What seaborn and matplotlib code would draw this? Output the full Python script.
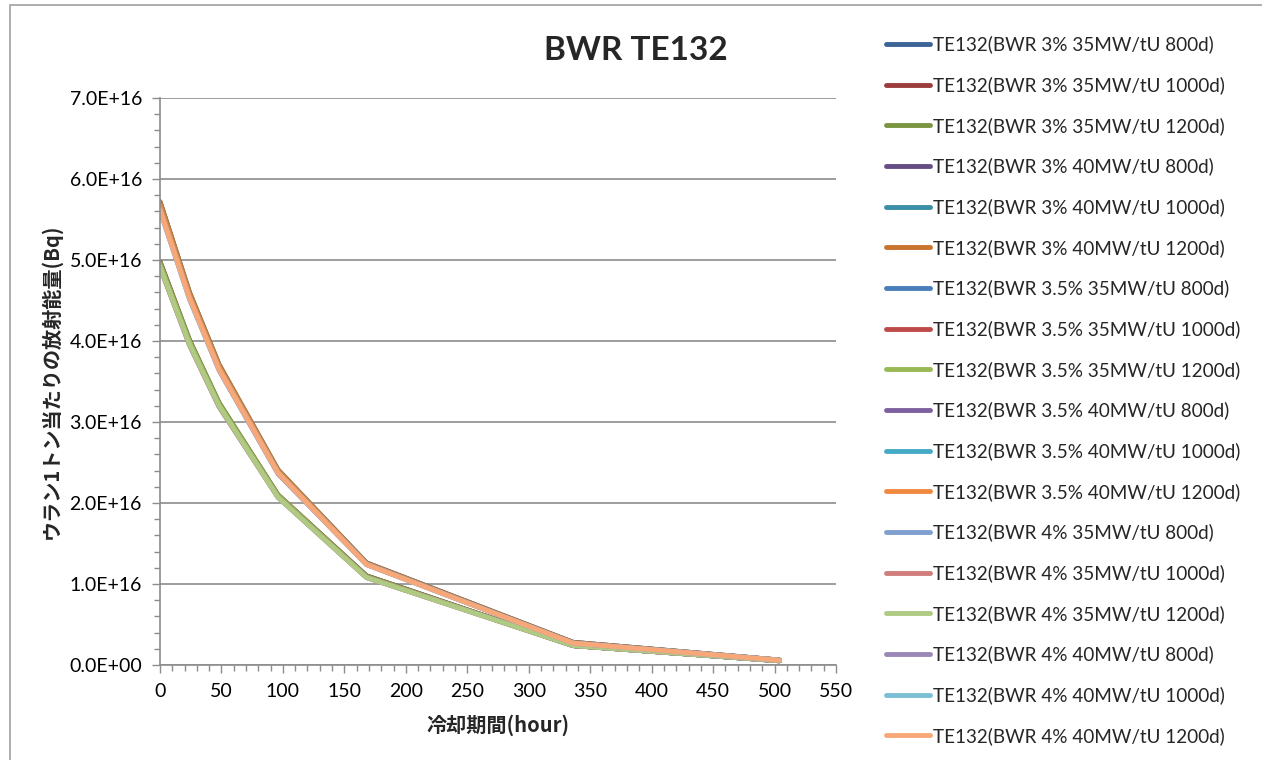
import pandas as pd
import seaborn as sns
import matplotlib.pyplot as plt
from matplotlib.ticker import MultipleLocator, FuncFormatter
from matplotlib.patches import Rectangle

# cooling time (hour)
hours = [0, 24, 48, 96, 168, 336, 504]

labels = [
    'TE132(BWR 3% 35MW/tU 800d)', 'TE132(BWR 3% 35MW/tU 1000d)', 'TE132(BWR 3% 35MW/tU 1200d)',
    'TE132(BWR 3% 40MW/tU 800d)', 'TE132(BWR 3% 40MW/tU 1000d)', 'TE132(BWR 3% 40MW/tU 1200d)',
    'TE132(BWR 3.5% 35MW/tU 800d)', 'TE132(BWR 3.5% 35MW/tU 1000d)', 'TE132(BWR 3.5% 35MW/tU 1200d)',
    'TE132(BWR 3.5% 40MW/tU 800d)', 'TE132(BWR 3.5% 40MW/tU 1000d)', 'TE132(BWR 3.5% 40MW/tU 1200d)',
    'TE132(BWR 4% 35MW/tU 800d)', 'TE132(BWR 4% 35MW/tU 1000d)', 'TE132(BWR 4% 35MW/tU 1200d)',
    'TE132(BWR 4% 40MW/tU 800d)', 'TE132(BWR 4% 40MW/tU 1000d)', 'TE132(BWR 4% 40MW/tU 1200d)',
]

# activity per ton uranium, in units of 1E16 Bq
activity = [
    [4.97, 4.00, 3.23, 2.09, 1.10, 0.24, 0.053],
    [4.98, 4.01, 3.23, 2.10, 1.10, 0.24, 0.053],
    [4.98, 4.01, 3.24, 2.10, 1.10, 0.24, 0.053],
    [5.71, 4.59, 3.70, 2.40, 1.26, 0.28, 0.061],
    [5.72, 4.60, 3.71, 2.41, 1.26, 0.28, 0.061],
    [5.72, 4.60, 3.71, 2.41, 1.26, 0.28, 0.061],
    [4.94, 3.98, 3.21, 2.08, 1.09, 0.24, 0.052],
    [4.95, 3.98, 3.21, 2.08, 1.09, 0.24, 0.052],
    [4.95, 3.99, 3.22, 2.09, 1.09, 0.24, 0.052],
    [5.66, 4.55, 3.67, 2.38, 1.25, 0.27, 0.060],
    [5.67, 4.56, 3.68, 2.39, 1.25, 0.27, 0.060],
    [5.67, 4.56, 3.68, 2.39, 1.25, 0.27, 0.060],
    [4.91, 3.95, 3.19, 2.07, 1.08, 0.24, 0.052],
    [4.91, 3.95, 3.19, 2.07, 1.08, 0.24, 0.052],
    [4.92, 3.96, 3.20, 2.07, 1.08, 0.24, 0.052],
    [5.61, 4.52, 3.64, 2.36, 1.24, 0.27, 0.059],
    [5.62, 4.52, 3.65, 2.37, 1.24, 0.27, 0.059],
    [5.62, 4.53, 3.65, 2.37, 1.24, 0.27, 0.059],
]

colors = [
    '#3C6496', '#9C3D3B', '#7A9440', '#664D84', '#3A8FA6', '#C8732E',
    '#4A7EBB', '#BE4B48', '#98B954', '#7D60A0', '#46AAC5', '#F0883E',
    '#7F9FCF', '#D07D7B', '#AFCA83', '#9B87B8', '#7BBFD4', '#F8A878',
]

rows = []
for lab, vals in zip(labels, activity):
    for h, v in zip(hours, vals):
        rows.append({'hour': h, 'value': v * 1e16, 'series': lab})
df = pd.DataFrame(rows)

sns.set_style('white')
plt.rcParams['font.family'] = ['Lato', 'Noto Sans CJK JP', 'DejaVu Sans']

fig = plt.figure(figsize=(12.62, 7.6), dpi=100)
ax = fig.add_axes([160 / 1262, 1 - 665 / 760, (836 - 160) / 1262, (665 - 98) / 760])

sns.lineplot(data=df, x='hour', y='value', hue='series', hue_order=labels,
             palette=colors, linewidth=3.5, ax=ax, legend=True, sort=False)

ax.set_xlim(0, 550)
ax.set_ylim(0, 7e16)
ax.xaxis.set_major_locator(MultipleLocator(50))
ax.xaxis.set_minor_locator(MultipleLocator(10))
ax.yaxis.set_major_locator(MultipleLocator(1e16))
ax.yaxis.set_minor_locator(MultipleLocator(0.2e16))


def sci(v, pos):
    if v == 0:
        return '0.0E+00'
    return f'{v / 1e16:.1f}E+16'


ax.yaxis.set_major_formatter(FuncFormatter(sci))
ax.grid(axis='y', which='major', color='#8c8c8c', linewidth=1.2)
ax.set_axisbelow(True)
for s in ['top', 'right']:
    ax.spines[s].set_visible(False)
for s in ['left', 'bottom']:
    ax.spines[s].set_color('#8c8c8c')
    ax.spines[s].set_linewidth(1.2)
ax.tick_params(which='both', direction='out', color='#8c8c8c', width=1,
               left=True, bottom=True, labelsize=14, colors='#8c8c8c', labelcolor='black')
ax.tick_params(which='major', length=6, pad=7)
ax.tick_params(which='minor', length=4)

ax.set_xlabel('冷却期間(hour)', fontsize=14.5, fontweight='bold',
              family=['Noto Sans CJK JP', 'DejaVu Sans'], labelpad=10)
ax.set_ylabel('ウラン1トン当たりの放射能量(Bq)', fontsize=14.5, fontweight='bold',
              family=['Noto Sans CJK JP', 'DejaVu Sans'], labelpad=5)

fig.text(636 / 1262, 1 - 50 / 760, 'BWR TE132', fontsize=24, fontweight='bold',
         ha='center', va='center')

handles, labs = ax.get_legend_handles_labels()
ax.legend(handles, labs, loc='upper left', bbox_to_anchor=(878 / 1262, 1 - 28 / 760),
          bbox_transform=fig.transFigure, frameon=False, fontsize=13.6,
          handlelength=2.35, handletextpad=0.15, labelspacing=1.205, borderaxespad=0)

fig.patches.append(Rectangle((10 / 1262, -0.1), 1.2, 1.1 - 5 / 760, transform=fig.transFigure,
                             fill=False, edgecolor='#a0a0a0', linewidth=1.2))

fig.savefig('out.png', dpi=100)
